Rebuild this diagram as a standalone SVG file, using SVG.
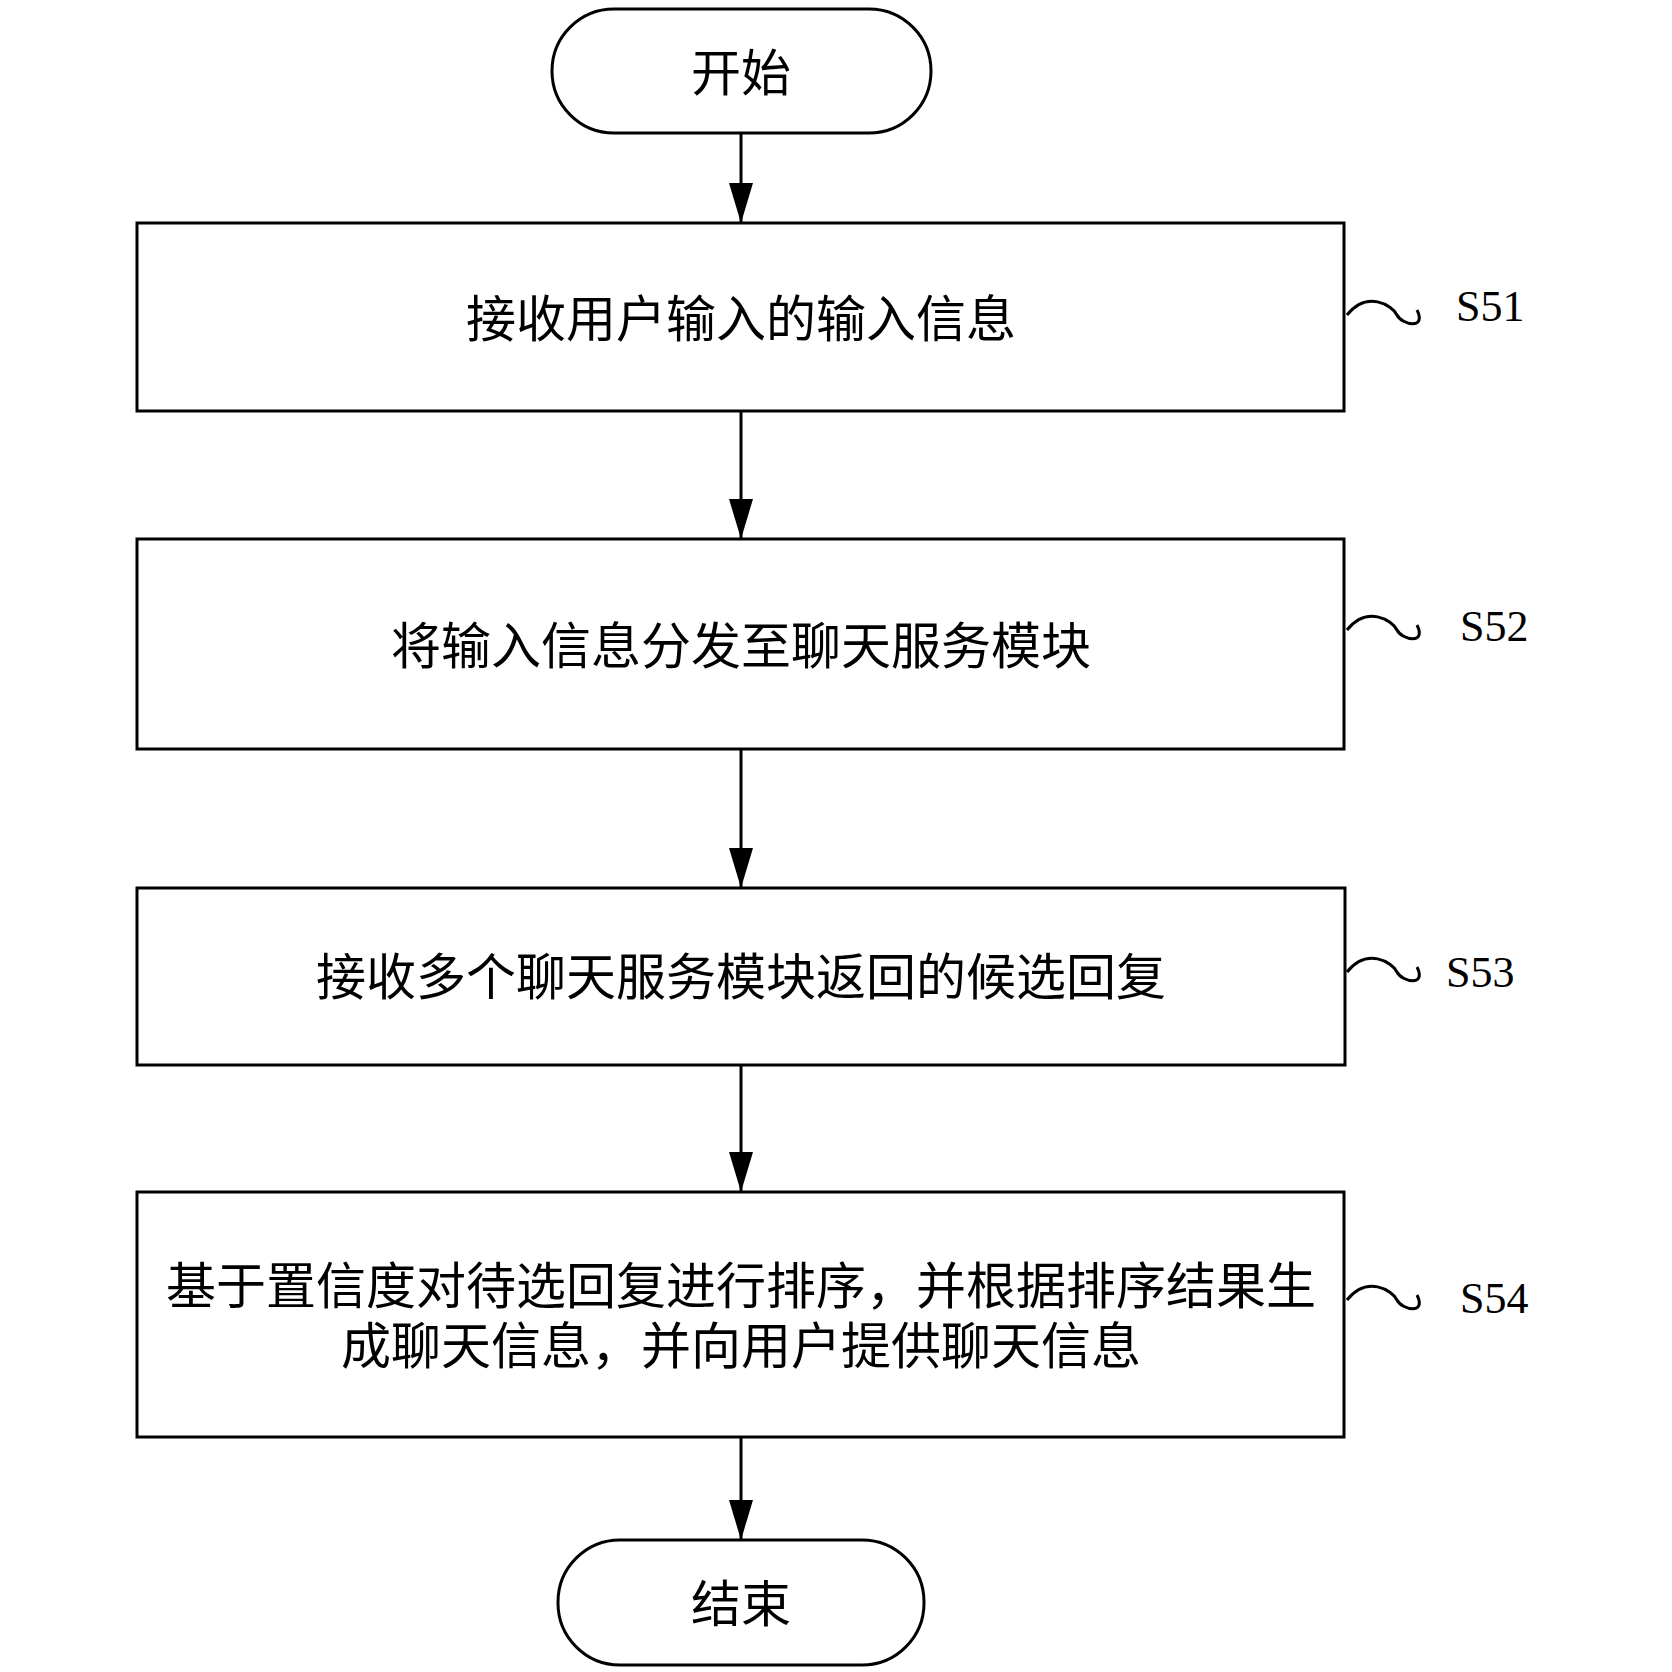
<svg xmlns="http://www.w3.org/2000/svg" width="1672" height="1672" viewBox="0 0 1672 1672">
<style>
.s{fill:#fff;stroke:#000;stroke-width:3}
.t{font-family:"Noto Sans CJK SC",sans-serif;font-size:50px;text-anchor:middle;dominant-baseline:central}
.l{font-family:"Liberation Serif",serif;font-size:44px;dominant-baseline:central}
.c{stroke:#000;stroke-width:3;fill:none}
</style>
<defs><marker id="b" markerWidth="40" markerHeight="24" refX="40" refY="12" orient="auto" markerUnits="userSpaceOnUse" viewBox="0 0 40 24"><path d="M0,0L40,12L0,24z" fill="#000"/></marker></defs>
<g id="connectors">
<path class="c" d="M741,133V223" marker-end="url(#b)"/>
<path class="c" d="M741,411V539" marker-end="url(#b)"/>
<path class="c" d="M741,749V888" marker-end="url(#b)"/>
<path class="c" d="M741,1065V1192" marker-end="url(#b)"/>
<path class="c" d="M741,1437V1540" marker-end="url(#b)"/>
<path class="c" d="M1347,315c20,-25 45,-10 50,0s30,15 20,-5"/>
<path class="c" d="M1347,630c20,-25 45,-10 50,0s30,15 20,-5"/>
<path class="c" d="M1347,972c20,-25 45,-10 50,0s30,15 20,-5"/>
<path class="c" d="M1347,1300c20,-25 45,-10 50,0s30,15 20,-5"/>
</g>
<g id="start"><rect class="s" x="552" y="9" width="379" height="124" rx="62"/><text class="t" x="741" y="69">开始</text></g>
<g id="s51"><rect class="s" x="137" y="223" width="1207" height="188"/><text class="t" x="741" y="315">接收用户输入的输入信息</text><text class="l" x="1456" y="306">S51</text></g>
<g id="s52"><rect class="s" x="137" y="539" width="1207" height="210"/><text class="t" x="741" y="642">将输入信息分发至聊天服务模块</text><text class="l" x="1460" y="626">S52</text></g>
<g id="s53"><rect class="s" x="137" y="888" width="1208" height="177"/><text class="t" x="741" y="973">接收多个聊天服务模块返回的候选回复</text><text class="l" x="1446" y="972">S53</text></g>
<g id="s54"><rect class="s" x="137" y="1192" width="1207" height="245"/><text class="t" x="741" y="1282">基于置信度对待选回复进行排序，并根据排序结果生</text><text class="t" x="741" y="1342">成聊天信息，并向用户提供聊天信息</text><text class="l" x="1460" y="1298">S54</text></g>
<g id="end"><rect class="s" x="558" y="1540" width="366" height="125" rx="62"/><text class="t" x="741" y="1600">结束</text></g>
</svg>
